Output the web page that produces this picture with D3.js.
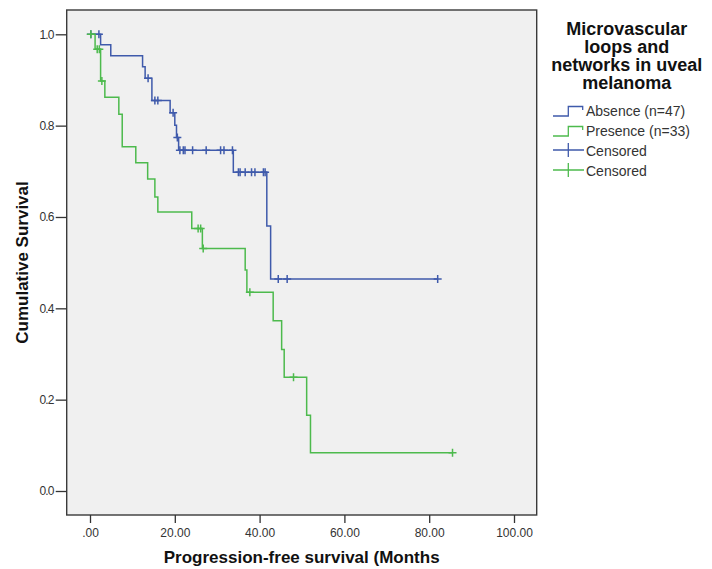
<!DOCTYPE html>
<html>
<head>
<meta charset="utf-8">
<script src="https://cdn.jsdelivr.net/npm/d3@7"></script>
<style>
  body { margin: 0; background: #fff; }
  svg { font-family: "Liberation Sans", Arial, sans-serif; }
  .axis text { font-size: 12px; fill: #333; }
  .axis line { stroke: #333; stroke-width: 1.3; }
  .axis-title { font-size: 17px; font-weight: bold; fill: #111; }
  .legend-title { font-size: 18px; font-weight: bold; fill: #111; }
  .legend-item { font-size: 14px; fill: #333; }
</style>
</head>
<body>
<svg id="chart"></svg>
<script>
// Absence group (n=47): step times (months) and survival after each step
const absenceTimes = [0, 2.5, 4.9, 12.4, 13.0, 14.6, 18.9, 20.0, 20.4, 20.9, 33.8, 41.7, 42.6, 82.0];
const absenceSurv  = [1.0, 0.977, 0.953, 0.929, 0.904, 0.855, 0.828, 0.801, 0.774, 0.746, 0.698, 0.580, 0.464, 0.464];
const absenceCensored = [0.2, 2.1, 13.7, 15.3, 16.0, 19.6, 20.6, 21.2, 22.0, 22.4, 24.2, 27.4, 30.8, 31.6, 33.6,
  35.0, 35.4, 36.6, 38.1, 38.9, 40.9, 41.3, 44.4, 46.5, 82.0];

// Presence group (n=33)
const presenceTimes = [0, 1.2, 2.5, 3.5, 6.8, 7.6, 10.8, 13.6, 15.3, 16.0, 24.0, 26.5, 36.6, 37.0, 43.2, 45.2, 45.8, 51.1, 52.0, 85.5];
const presenceSurv  = [1.0, 0.967, 0.898, 0.862, 0.825, 0.754, 0.719, 0.683, 0.644, 0.611, 0.575, 0.531, 0.484, 0.435, 0.373, 0.310, 0.249, 0.166, 0.084, 0.084];
const presenceCensored = [0.2, 1.7, 2.2, 2.8, 25.5, 26.1, 26.7, 37.7, 48.0, 85.5];

const xTicks = [0, 20, 40, 60, 80, 100];
const yTicks = [0, 0.2, 0.4, 0.6, 0.8, 1.0];
const legendTitle = ['Microvascular', 'loops and', 'networks in uveal', 'melanoma'];
const legendLabels = ['Absence (n=47)', 'Presence (n=33)', 'Censored', 'Censored'];

const blue = '#3f5aab';
const green = '#4dba4d';

const groups = [
  { times: absenceTimes, surv: absenceSurv, censored: absenceCensored, color: blue },
  { times: presenceTimes, surv: presenceSurv, censored: presenceCensored, color: green }
];

const width = 712, height = 569;
const frame = { left: 66.7, top: 10, right: 536.7, bottom: 515 };

const svg = d3.select('#chart')
  .attr('width', width)
  .attr('height', height);

// Scales
const x = d3.scaleLinear().domain([0, 100]).range([90, 514]);
const y = d3.scaleLinear().domain([0, 1]).range([491, 34.3]);

// Plot background + frame
svg.append('rect')
  .attr('x', frame.left)
  .attr('y', frame.top)
  .attr('width', frame.right - frame.left)
  .attr('height', frame.bottom - frame.top)
  .attr('fill', '#f0f0f0')
  .attr('stroke', '#3a3a3a')
  .attr('stroke-width', 1.4);

// Axes
const xAxisG = svg.append('g')
  .attr('class', 'axis')
  .attr('transform', `translate(0,${frame.bottom})`)
  .call(d3.axisBottom(x)
    .tickValues(xTicks)
    .tickSize(8)
    .tickSizeOuter(0)
    .tickPadding(5)
    .tickFormat(d => d === 0 ? '.00' : d.toFixed(2)));
xAxisG.select('.domain').remove();

const yAxisG = svg.append('g')
  .attr('class', 'axis')
  .attr('transform', `translate(${frame.left},0)`)
  .call(d3.axisLeft(y)
    .tickValues(yTicks)
    .tickSize(11)
    .tickSizeOuter(0)
    .tickPadding(2)
    .tickFormat(d3.format('.1f')));
yAxisG.select('.domain').remove();
yAxisG.selectAll('text').style('letter-spacing', '-0.8px');

svg.selectAll('.axis text').attr('font-family', null);

// Axis titles
svg.append('text')
  .attr('class', 'axis-title')
  .attr('x', (frame.left + frame.right) / 2)
  .attr('y', 563)
  .attr('text-anchor', 'middle')
  .text('Progression-free survival (Months');

svg.append('text')
  .attr('class', 'axis-title')
  .attr('transform', `translate(28,${(frame.top + frame.bottom) / 2}) rotate(-90)`)
  .attr('text-anchor', 'middle')
  .text('Cumulative Survival');

// Survival curves
const line = d3.line()
  .x(d => x(d[0]))
  .y(d => y(d[1]))
  .curve(d3.curveStepAfter);

const survAt = (g, t) => g.surv[d3.bisectRight(g.times, t) - 1];
const cross = 4;

groups.forEach(g => {
  svg.append('path')
    .datum(g.times.map((t, i) => [t, g.surv[i]]))
    .attr('d', line)
    .attr('fill', 'none')
    .attr('stroke', g.color)
    .attr('stroke-width', 1.5);

  svg.append('g')
    .selectAll('path')
    .data(g.censored)
    .join('path')
    .attr('d', t => {
      const cx = x(t), cy = y(survAt(g, t));
      return `M${cx - cross},${cy}H${cx + cross}M${cx},${cy - cross}V${cy + cross}`;
    })
    .attr('stroke', g.color)
    .attr('stroke-width', 1.5);
});

// Legend
const legend = svg.append('g');

legend.selectAll('.legend-title')
  .data(legendTitle)
  .join('text')
  .attr('class', 'legend-title')
  .attr('x', 626.7)
  .attr('y', (d, i) => 34.5 + i * 18.2)
  .attr('text-anchor', 'middle')
  .text(d => d);

const legendColors = [blue, green, blue, green];
legendLabels.forEach((label, i) => {
  const cy = 110 + i * 20;
  const item = legend.append('g');
  if (i < 2) {
    item.append('path')
      .attr('d', `M553,${cy + 6}H568.3V${cy - 3.5}H582.7V${cy}`)
      .attr('fill', 'none')
      .attr('stroke', legendColors[i])
      .attr('stroke-width', 1.3);
  } else {
    item.append('path')
      .attr('d', `M553,${cy}H584M568.3,${cy - 7}V${cy + 7}`)
      .attr('stroke', legendColors[i])
      .attr('stroke-width', 1.3);
  }
  item.append('text')
    .attr('class', 'legend-item')
    .attr('x', 586)
    .attr('y', cy + 6)
    .text(label);
});
</script>
</body>
</html>
